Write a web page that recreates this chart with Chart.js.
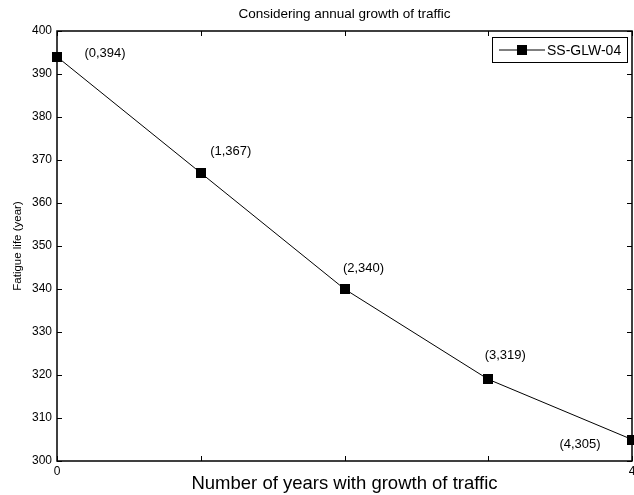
<!DOCTYPE html>
<html>
<head>
<meta charset="utf-8">
<script src="https://cdn.jsdelivr.net/npm/chart.js@4.4.0/dist/chart.umd.min.js"></script>
<style>
  html, body { margin: 0; padding: 0; background: #fff; }
  #wrap { width: 634px; height: 495px; }
</style>
</head>
<body>
<div id="wrap"><canvas id="chart"></canvas></div>
<script>
// data
const years = [0, 1, 2, 3, 4];
const fatigueLife = [394, 367, 340, 319, 305];
const seriesName = 'SS-GLW-04';
const chartTitle = 'Considering annual growth of traffic';
const xTickLabels = { 0: '0', 4: '4' };
// where each "(x,y)" note sits relative to its marker (px)
const labelOffsets = [[48, -3], [30, -21], [19, -21], [17, -24], [-52, 5]];

const FONT = '"Liberation Sans", Arial, sans-serif';

// MATLAB-like box, inward ticks, square markers, point notes, title and legend
// (markers drawn here so the line controller doesn't pad the plot for them)
const matlabAxes = {
    id: 'matlabAxes',
    afterDatasetsDraw(chart) {
        const { ctx, chartArea: a, scales } = chart;
        const xs = scales.x, ys = scales.y;
        ctx.save();
        ctx.strokeStyle = '#000';
        ctx.lineWidth = 1;
        ctx.beginPath();
        xs.ticks.forEach(t => {
            const px = Math.round(xs.getPixelForValue(t.value)) + 0.5;
            ctx.moveTo(px, a.bottom); ctx.lineTo(px, a.bottom - 5);
            ctx.moveTo(px, a.top); ctx.lineTo(px, a.top + 5);
        });
        ys.ticks.forEach(t => {
            const py = Math.round(ys.getPixelForValue(t.value)) + 0.5;
            ctx.moveTo(a.left, py); ctx.lineTo(a.left + 5, py);
            ctx.moveTo(a.right, py); ctx.lineTo(a.right - 5, py);
        });
        ctx.stroke();
        ctx.lineWidth = 1.5;
        ctx.strokeRect(a.left, a.top, a.right - a.left, a.bottom - a.top);

        const meta = chart.getDatasetMeta(0);
        ctx.fillStyle = '#000';
        meta.data.forEach(pt => {
            ctx.fillRect(Math.round(pt.x) - 5, Math.round(pt.y) - 5, 10, 10);
        });

        // point notes
        ctx.font = '13px ' + FONT;
        ctx.textAlign = 'center';
        ctx.textBaseline = 'middle';
        meta.data.forEach((pt, i) => {
            const [dx, dy] = labelOffsets[i];
            ctx.fillText('(' + years[i] + ',' + fatigueLife[i] + ')', pt.x + dx, pt.y + dy);
        });

        // title, centred over the axes box
        ctx.font = '13.5px ' + FONT;
        ctx.fillText(chartTitle, (a.left + a.right) / 2, a.top - 17);

        // legend
        const bx = 492, by = 37, bw = 135, bh = 25;
        ctx.fillStyle = '#fff';
        ctx.fillRect(bx, by, bw, bh);
        ctx.lineWidth = 1;
        ctx.strokeRect(bx + 0.5, by + 0.5, bw, bh);
        const ly = by + bh / 2 + 0.5;
        ctx.beginPath();
        ctx.moveTo(bx + 7, ly); ctx.lineTo(bx + 53, ly);
        ctx.stroke();
        ctx.fillStyle = '#000';
        ctx.fillRect(bx + 25, ly - 5, 10, 10);
        ctx.textAlign = 'left';
        ctx.font = '14px ' + FONT;
        ctx.fillText(chart.data.datasets[0].label, bx + 55, ly + 1);
        ctx.restore();
    }
};

new Chart(document.getElementById('chart'), {
    type: 'line',
    data: {
        datasets: [{
            label: seriesName,
            data: years.map((x, i) => ({ x: x, y: fatigueLife[i] })),
            borderColor: '#000',
            borderWidth: 1,
            backgroundColor: '#000',
            pointRadius: 0,
            pointHoverRadius: 0,
            tension: 0,
            clip: false
        }]
    },
    options: {
        responsive: true,
        maintainAspectRatio: false,
        animation: false,
        layout: { padding: { top: 31, left: 0, right: 2, bottom: 0 } },
        plugins: {
            legend: { display: false },
            tooltip: { enabled: false },
            title: { display: false }
        },
        scales: {
            x: {
                type: 'linear',
                min: 0,
                max: 4,
                border: { display: false },
                grid: { display: false, drawTicks: false },
                ticks: {
                    stepSize: 1,
                    padding: 3,
                    maxRotation: 0,
                    color: '#000',
                    font: { family: FONT, size: 12 },
                    callback: v => xTickLabels[v] !== undefined ? xTickLabels[v] : ''
                },
                title: {
                    display: true,
                    text: 'Number of years with growth of traffic',
                    color: '#000',
                    font: { family: FONT, size: 18.5 },
                    padding: { top: 0, bottom: 0 }
                },
                afterFit(scale) {
                    scale.height = 34;
                    scale.paddingLeft = 0;
                    scale.paddingRight = 0;
                }
            },
            y: {
                min: 300,
                max: 400,
                border: { display: false },
                grid: { display: false, drawTicks: false },
                ticks: {
                    stepSize: 10,
                    padding: 5,
                    color: '#000',
                    font: { family: FONT, size: 12 }
                },
                title: {
                    display: true,
                    text: 'Fatigue life (year)',
                    color: '#000',
                    font: { family: FONT, size: 11.5 },
                    padding: { top: 11, bottom: 0 }
                },
                afterFit(scale) {
                    scale.width = 57;
                    scale.paddingTop = 0;
                    scale.paddingBottom = 0;
                }
            }
        }
    },
    plugins: [matlabAxes]
});
</script>
</body>
</html>
